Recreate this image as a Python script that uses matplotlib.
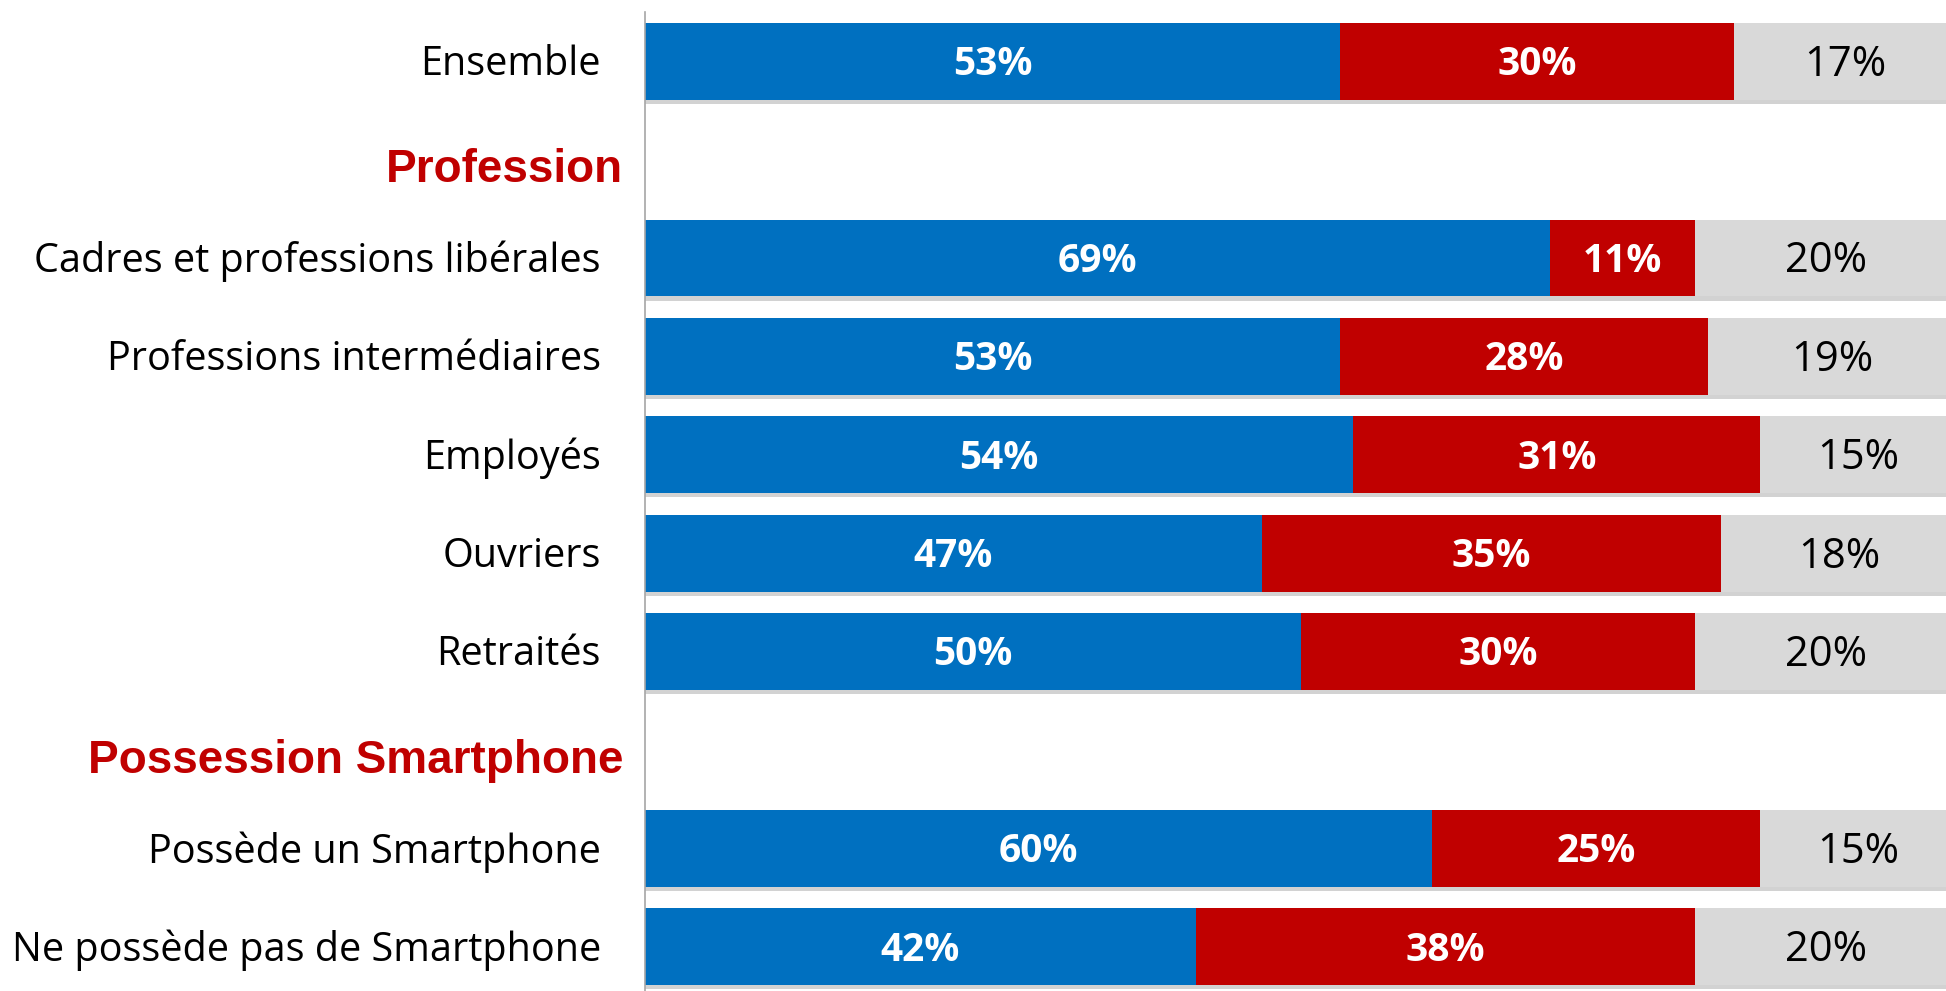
import matplotlib
matplotlib.use("Agg")
import matplotlib.pyplot as plt
import matplotlib.patheffects as pe

# rows from top to bottom; None marks a section heading row
labels = ["Ensemble", "Profession", "Cadres et professions libérales",
          "Professions intermédiaires", "Employés", "Ouvriers", "Retraités",
          "Possession Smartphone", "Possède un Smartphone",
          "Ne possède pas de Smartphone"]
headings = ["Profession", "Possession Smartphone"]
oui = [53, None, 69, 53, 54, 47, 50, None, 60, 42]
non = [30, None, 11, 28, 31, 35, 30, None, 25, 38]
nsp = [17, None, 20, 19, 15, 18, 20, None, 15, 20]

BLUE = "#0070C0"
RED = "#C00000"
GREY = "#D9D9D9"

W, H = 1946, 991
fig = plt.figure(figsize=(W / 100, H / 100), dpi=100)
ax = fig.add_axes([645 / W, 0, 1312 / W, 1 - 12 / H])

shadow = [pe.SimplePatchShadow(offset=(0, -3), shadow_rgbFace="#808080", alpha=0.35),
          pe.Normal()]

dy = 0.035  # text sits a touch below bar centre
bar_h = 0.78
for i, lab in enumerate(labels):
    if oui[i] is None:
        continue
    left = 0
    for val, col, txtcol, wt, fs in [(oui[i], BLUE, "white", "bold", 28),
                                     (non[i], RED, "white", "bold", 28),
                                     (nsp[i], GREY, "black", "normal", 30)]:
        bars = ax.barh(i, val, left=left, height=bar_h, color=col, edgecolor="none")
        for b in bars:
            b.set_path_effects(shadow)
        ax.text(left + val / 2, i + dy, f"{val}%", ha="center", va="center",
                color=txtcol, fontsize=fs, fontweight=wt, family="Open Sans")
        left += val

ax.set_xlim(0, 100)
ax.set_ylim(9.45, -0.5)
ax.set_xticks([])
ax.set_yticks([])
for s in ["top", "right", "bottom"]:
    ax.spines[s].set_visible(False)
ax.spines["left"].set_color("#A6A6A6")
ax.spines["left"].set_linewidth(1.2)
ax.spines["left"].set_zorder(5)

for i, lab in enumerate(labels):
    if lab in headings:
        ax.text(-22 / 1312 * 100, i + 0.11, lab, ha="right", va="center",
                color=RED, fontsize=33, fontweight="bold",
                family="Liberation Sans")
    else:
        ax.text(-44 / 1312 * 100, i + dy, lab, ha="right", va="center",
                color="black", fontsize=28.5, family="Open Sans")

fig.savefig("out.png", dpi=100)
